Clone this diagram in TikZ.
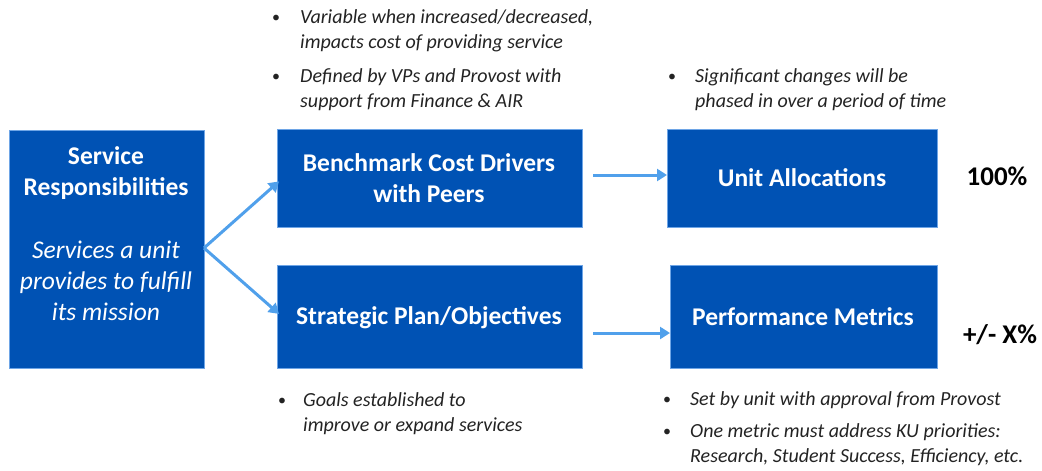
\documentclass[tikz,border=0pt]{standalone}
\usepackage{fontspec}
\setmainfont{Carlito}
\usetikzlibrary{arrows.meta,calc}
\definecolor{boxblue}{RGB}{0,82,180}
\definecolor{edgeblue}{RGB}{110,165,230}
\definecolor{arrowblue}{RGB}{80,160,235}
\definecolor{txtgray}{RGB}{35,35,35}
\tikzset{
  bluebox/.style={draw=edgeblue, line width=0.8pt, fill=boxblue, inner sep=0pt, anchor=north west},
  boxtxt/.style={text=white, font=\fontsize{25.5}{31}\selectfont\bfseries, align=center},
  flow/.style={draw=arrowblue, line width=3pt, -{Triangle[length=10pt,width=12pt]}},
  bul/.style={text=txtgray, font=\fontsize{16}{20}\selectfont, anchor=center, inner sep=0pt},
  bultxt/.style={text=txtgray, font=\fontsize{20}{25.5}\selectfont\itshape, anchor=north west, align=left, inner sep=0pt},
  pct/.style={text=black, font=\fontsize{27}{30}\selectfont\bfseries}
}
\begin{document}
\begin{tikzpicture}[x=1pt,y=-1pt]
\useasboundingbox (0,0) rectangle (1042,471);
% boxes
\node[bluebox, minimum width=195pt, minimum height=238pt] (serv) at (9,130) {};
\node[bluebox, minimum width=305pt, minimum height=98pt] (bench) at (277,129) {};
\node[bluebox, minimum width=305pt, minimum height=103pt] (strat) at (277,265) {};
\node[bluebox, minimum width=270pt, minimum height=98pt] (unit) at (667,129) {};
\node[bluebox, minimum width=267pt, minimum height=103pt] (perf) at (670,265) {};
% box texts
\node[boxtxt] (servt) at (106,173) {Service\\Responsibilities};
\node[boxtxt, font=\fontsize{25.5}{31}\selectfont\itshape] (servd) at (106,281) {Services a unit\\provides to fulfill\\its mission};
\node[boxtxt] (bencht) at (429,178) {Benchmark Cost Drivers\\with Peers};
\node[boxtxt] (stratt) at (429,318) {Strategic Plan/Objectives};
\node[boxtxt] (unitt) at (802,178) {Unit Allocations};
\node[boxtxt] (perft) at (803,317) {Performance Metrics};
% percentages
\node[pct] (p100) at (997,176) {100\%};
\node[pct] (pxx) at (1000,335) {+/- X\%};
% arrows
\coordinate (fork) at (204,248);
\draw[flow] (fork) -- ($(bench.west)+(2,3)$);
\draw[flow] (fork) -- ($(strat.west)+(2,-3)$);
\draw[flow] (593,175) coordinate (a1) -- (unit.west |- a1);
\draw[flow] (593,333) coordinate (a2) -- (perf.west |- a2);
% bullets top middle
\node[bul] (b1) at (276,19) {\textbullet};
\node[bultxt] (t1) at (300,9) {Variable when increased/decreased,\\impacts cost of providing service};
\node[bul] (b2) at (276,78) {\textbullet};
\node[bultxt] (t2) at (300,68) {Defined by VPs and Provost with\\support from Finance \& AIR};
% bullets top right
\node[bul] (b3) at (672,78) {\textbullet};
\node[bultxt] (t3) at (695,68) {Significant changes will be\\phased in over a period of time};
% bullets bottom middle
\node[bul] (b4) at (282,402) {\textbullet};
\node[bultxt] (t4) at (303,392) {Goals established to\\improve or expand services};
% bullets bottom right
\node[bul] (b5) at (667,401) {\textbullet};
\node[bultxt] (t5) at (690,391) {Set by unit with approval from Provost};
\node[bul] (b6) at (667,433) {\textbullet};
\node[bultxt] (t6) at (690,423) {One metric must address KU priorities:\\Research, Student Success, Efficiency, etc.};
\end{tikzpicture}
\end{document}
